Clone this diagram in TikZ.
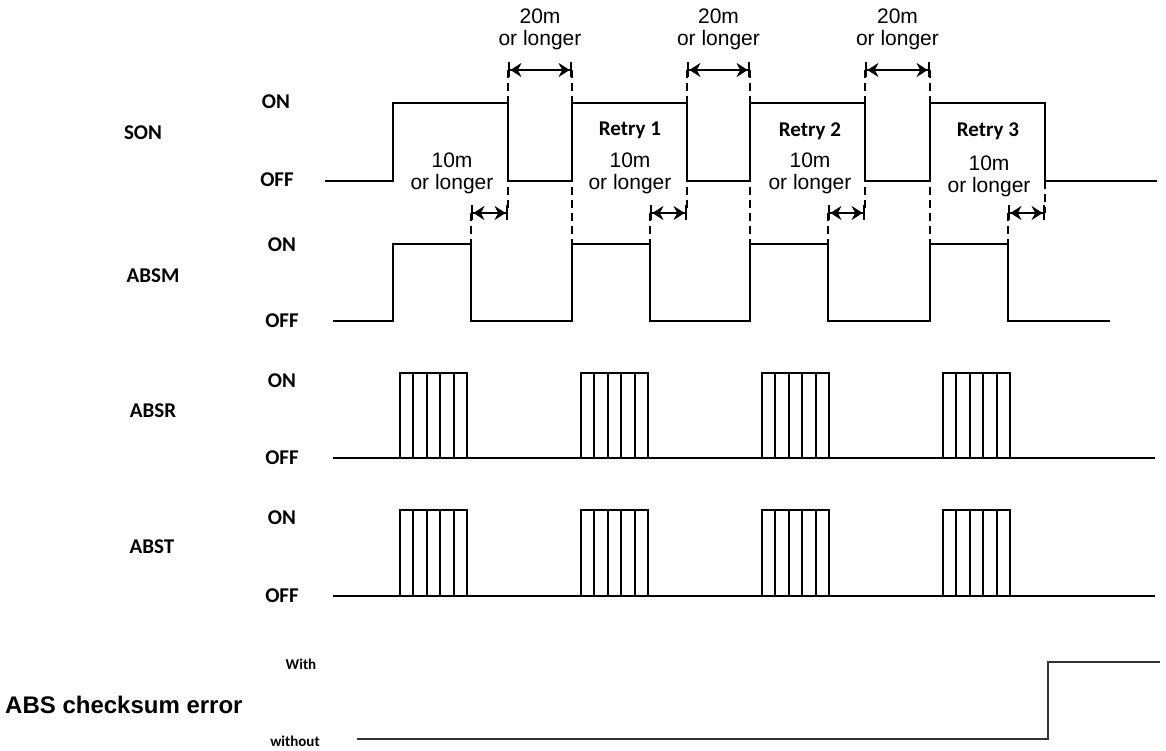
\documentclass[tikz,border=0pt]{standalone}
\usepackage{fontspec}
\setmainfont{Liberation Sans}
\newfontfamily\calfont{Carlito}
\usetikzlibrary{arrows.meta}

\begin{document}
\begin{tikzpicture}[
  x=1pt,y=-1pt,
  every node/.style={inner sep=0pt},
  sig/.style={line width=2pt,line join=miter},
  guide/.style={line width=1.8pt,dash pattern=on 8pt off 5pt},
  dimarr/.style={line width=2.4pt,
    {Bar[width=15pt]Stealth[length=11pt,width=14pt]}-{Stealth[length=11pt,width=14pt]Bar[width=15pt]}},
  siglabel/.style={font=\calfont\bfseries\fontsize{21}{21}\selectfont},
  lvl/.style={font=\calfont\bfseries\fontsize{21}{21}\selectfont},
  note/.style={font=\fontsize{21}{22}\selectfont,align=center},
  retry/.style={font=\calfont\bfseries\fontsize{21}{21}\selectfont},
  small/.style={font=\calfont\bfseries\fontsize{15}{15}\selectfont},
]
  \useasboundingbox (0,0) rectangle (1166,751);

  % Signal names and levels
  \node[siglabel] (son)  at (143,133) {SON};
  \node[siglabel] (absm) at (153,276) {ABSM};
  \node[siglabel] (absr) at (153,411) {ABSR};
  \node[siglabel] (abst) at (152,547) {ABST};
  \node[lvl] (sonon)   at (276,102) {ON};
  \node[lvl] (sonoff)  at (277,180) {OFF};
  \node[lvl] (absmon)  at (282,245) {ON};
  \node[lvl] (absmoff) at (282,321) {OFF};
  \node[lvl] (absron)  at (282,381) {ON};
  \node[lvl] (absroff) at (282,458) {OFF};
  \node[lvl] (abston)  at (282,518) {ON};
  \node[lvl] (abstoff) at (282,596) {OFF};

  % SON
  \draw[sig] (325,181) -- (393,181) -- (393,103) -- (508,103) -- (508,181)
    -- (572,181) -- (572,103) -- (687,103) -- (687,181)
    -- (750,181) -- (750,103) -- (865,103) -- (865,181)
    -- (930,181) -- (930,103) -- (1045,103) -- (1045,181) -- (1157,181);

  % ABSM
  \draw[sig] (333,321) -- (393,321) -- (393,244) -- (471,244) -- (471,321)
    -- (572,321) -- (572,244) -- (650,244) -- (650,321)
    -- (750,321) -- (750,244) -- (828,244) -- (828,321)
    -- (930,321) -- (930,244) -- (1008,244) -- (1008,321) -- (1110,321);

  % ABSR and ABST pulse trains
  \draw[sig] (333,458) -- (1155,458);
  \draw[sig] (333,596) -- (1155,596);
  \foreach \bx in {400,581,762,943}{
    \foreach \yon/\yoff in {373/458,510/596}{
      \draw[sig] (\bx,\yoff) -- (\bx,\yon) -- (\bx+67,\yon) -- (\bx+67,\yoff);
      \foreach \k in {1,...,4}
        \draw[sig] (\bx+13.4*\k,\yon) -- (\bx+13.4*\k,\yoff);
    }
  }

  % Guide lines
  \foreach \gx in {508,687,865}
    \draw[guide] (\gx,70) -- (\gx,213);
  \draw[guide] (1045,181) -- (1045,213);
  \foreach \gx in {572,750,930}
    \draw[guide] (\gx,70) -- (\gx,244);
  \foreach \gx in {471,650,828,1008}
    \draw[guide] (\gx,213) -- (\gx,244);

  % 20m gaps
  \foreach \a/\b [count=\i] in {508/572,687/750,865/930}{
    \coordinate (g\i a) at (\a,70);
    \coordinate (g\i b) at (\b,70);
    \draw[dimarr] (g\i a) -- (g\i b);
    \node[note] (gap\i) at ({(\a+\b)/2},29) {20m\\or longer};
  }

  % 10m gaps
  \foreach \a/\b [count=\i] in {471/508,650/687,828/865,1008/1045}{
    \coordinate (h\i a) at (\a,213);
    \coordinate (h\i b) at (\b,213);
    \draw[dimarr] (h\i a) -- (h\i b);
  }
  \node[note] (hold1) at (452,173) {10m\\or longer};
  \node[note] (hold2) at (630,173) {10m\\or longer};
  \node[note] (hold3) at (810,173) {10m\\or longer};
  \node[note] (hold4) at (989,176) {10m\\or longer};

  % Retries
  \node[retry] (retry1) at (630,130) {Retry 1};
  \node[retry] (retry2) at (810,131) {Retry 2};
  \node[retry] (retry3) at (988,131) {Retry 3};

  % ABS checksum error
  \node[font=\bfseries\fontsize{24}{24}\selectfont,anchor=west] (chk) at (5,705) {ABS checksum error};
  \node[small] (with) at (301,664) {With};
  \node[small] (without) at (295,741) {without};
  \draw[sig,line width=2.6pt,black!80] (357,739) -- (1048,739) -- (1048,662) -- (1160,662);
\end{tikzpicture}
\end{document}
